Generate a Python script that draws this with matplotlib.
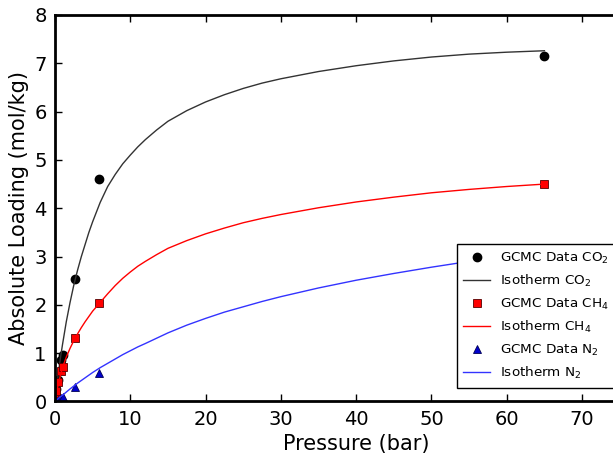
import matplotlib
matplotlib.use("Agg")
import matplotlib.pyplot as plt

# === GCMC data (bar, mol/kg) ===
p_gcmc = [0.1, 0.2, 0.4, 0.8, 1.0, 2.7, 5.8, 65.0]
co2_gcmc = [0.12, 0.25, 0.45, 0.85, 0.97, 2.53, 4.60, 7.16]
ch4_gcmc = [0.10, 0.22, 0.40, 0.64, 0.71, 1.31, 2.03, 4.50]
n2_gcmc = [0.01, 0.02, 0.04, 0.08, 0.10, 0.29, 0.58, 3.05]

# === isotherm curves ===
p_iso = [0, 0.25, 0.5, 0.75, 1, 1.5, 2, 2.5, 3, 3.5, 4, 4.5, 5, 6, 7, 8, 9, 10, 11, 12,
         13.5, 15, 17.5, 20, 22.5, 25, 27.5, 30, 35, 40, 45, 50, 55, 60, 65]
co2_iso = [0, 0.34, 0.65, 0.93, 1.18, 1.65, 2.05, 2.41, 2.72, 3.00, 3.25, 3.50, 3.72,
           4.12, 4.45, 4.70, 4.92, 5.10, 5.27, 5.42, 5.62, 5.80, 6.02, 6.20, 6.35, 6.48,
           6.59, 6.68, 6.83, 6.95, 7.05, 7.13, 7.19, 7.23, 7.26]
ch4_iso = [0, 0.22, 0.40, 0.56, 0.70, 0.92, 1.10, 1.26, 1.40, 1.53, 1.65, 1.76, 1.87,
           2.05, 2.23, 2.40, 2.55, 2.68, 2.80, 2.90, 3.04, 3.17, 3.33, 3.47, 3.59, 3.70,
           3.79, 3.87, 4.01, 4.13, 4.23, 4.32, 4.39, 4.45, 4.50]
n2_iso = [0, 0.035, 0.07, 0.10, 0.13, 0.195, 0.26, 0.32, 0.38, 0.435, 0.49, 0.545, 0.60,
          0.70, 0.79, 0.88, 0.97, 1.05, 1.13, 1.20, 1.31, 1.42, 1.58, 1.72, 1.85, 1.96,
          2.07, 2.17, 2.35, 2.51, 2.65, 2.78, 2.90, 3.00, 3.08]

fig = plt.figure(figsize=(6.13, 4.53), dpi=100)
# x range runs past the right edge of the picture, like the cropped original
ax = fig.add_axes([0.0897, 0.1137, 0.9827, 0.8532])

ax.plot(p_gcmc, co2_gcmc, "o", color="k", markersize=6, label="GCMC Data CO$_2$")
ax.plot(p_iso, co2_iso, "-", color="#333333", lw=1.0, label="Isotherm CO$_2$")
ax.plot(p_gcmc, ch4_gcmc, "s", color="red", mec="#550000", mew=0.6, markersize=6,
        label="GCMC Data CH$_4$")
ax.plot(p_iso, ch4_iso, "-", color="red", lw=1.0, label="Isotherm CH$_4$")
ax.plot(p_gcmc, n2_gcmc, "^", color="#0000cc", mec="#000055", mew=0.6, markersize=6,
        label="GCMC Data N$_2$")
ax.plot(p_iso, n2_iso, "-", color="#3333ff", lw=1.0, label="Isotherm N$_2$")

ax.set_xlim(0, 80)
ax.set_ylim(0, 8)
ax.set_xticks(range(0, 71, 10))
ax.set_yticks(range(0, 9))
ax.tick_params(direction="in", top=True, right=True, length=5, width=1,
               labelsize=14, pad=6)
for s in ax.spines.values():
    s.set_linewidth(2)

ax.set_xlabel("Pressure (bar)", fontsize=15)
ax.set_ylabel("Absolute Loading (mol/kg)", fontsize=15)

leg = ax.legend(loc="lower right", bbox_to_anchor=(616 / 613, 1 - 388 / 453),
                bbox_transform=fig.transFigure, borderaxespad=0, numpoints=1,
                fontsize=9.7, fancybox=False, framealpha=1, labelspacing=0.55,
                handlelength=2.0, handletextpad=0.75, borderpad=0.5)
leg.get_frame().set_edgecolor("k")
leg.get_frame().set_linewidth(1)

fig.savefig("out.png", dpi=100)
